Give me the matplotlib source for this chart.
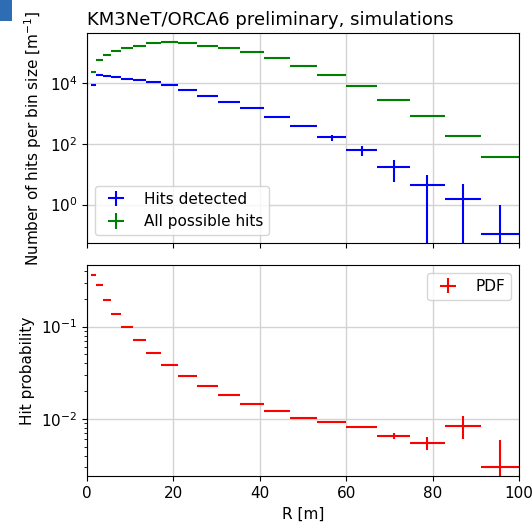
import numpy as np
import matplotlib
matplotlib.use("Agg")
import matplotlib.pyplot as plt
from matplotlib.patches import Rectangle
from matplotlib.ticker import NullLocator

plt.rcParams["font.size"] = 11

# bin edges in R [m]
edges = [1.0, 2.1, 3.61, 5.52, 7.84, 10.56, 13.69, 17.22, 21.16, 25.5, 30.25,
         35.4, 41.0, 46.9, 53.3, 60.0, 67.2, 74.8, 82.8, 91.2, 100.0]

hits_detected = [8800, 17700, 17000, 15700, 13500, 12200, 10500, 8400, 5900, 3750,
                 2440, 1510, 785, 389, 164, 63, 17.6, 4.3, 1.48, 0.105]
hits_detected_err = [300, 400, 380, 340, 300, 260, 230, 200, 160, 120,
                     90, 60, 40, 40, 36, 22, 12, 5.2, 3.4, 0.83]

hits_all = [23000, 56800, 82800, 112000, 140600, 171000, 205000, 221000, 205000, 171000,
            141000, 104000, 64100, 37700, 18300, 7740, 2770, 803, 183, 36.4]
hits_all_err = [200, 400, 500, 600, 700, 700, 800, 800, 700, 650,
                550, 450, 350, 250, 170, 100, 55, 25, 10, 3.6]

pdf = [0.359, 0.284, 0.196, 0.138, 0.0986, 0.0707, 0.0516, 0.0383, 0.0291, 0.0227,
       0.0181, 0.0145, 0.0121, 0.01025, 0.00918, 0.0082, 0.0066, 0.00546, 0.0084, 0.00305]
pdf_err = [0.002, 0.0015, 0.001, 0.0007, 0.0005, 0.0004, 0.0003, 0.0002, 0.00015, 0.00012,
           0.0001, 0.0001, 0.0001, 0.0001, 0.0001, 0.0002, 0.0005, 0.00085, 0.0023, 0.0029]

top_yticks = [1, 100, 10000]

edges = np.array(edges)
centers = 0.5 * (edges[1:] + edges[:-1])
halfw = 0.5 * (edges[1:] - edges[:-1])

fig = plt.figure(figsize=(5.32, 5.25), dpi=100)
ax1 = fig.add_axes([0.1635, 0.537, 0.812, 0.400])
ax2 = fig.add_axes([0.1635, 0.093, 0.812, 0.402], sharex=ax1)

ax1.errorbar(centers, hits_detected, xerr=halfw, yerr=hits_detected_err, fmt="none",
             ecolor="blue", elinewidth=1.5, label="Hits detected")
ax1.errorbar(centers, hits_all, xerr=halfw, yerr=hits_all_err, fmt="none",
             ecolor="green", elinewidth=1.5, label="All possible hits")
ax1.set_yscale("log")
ax1.set_yticks(top_yticks)
ax1.yaxis.set_minor_locator(NullLocator())
ax1.set_ylim(0.054, 4.4e5)
ax1.set_ylabel("Number of hits per bin size [m$^{-1}$]")
ax1.set_title("KM3NeT/ORCA6 preliminary, simulations", loc="left", fontsize=13)
ax1.grid(True, color="lightgray", linewidth=1)
ax1.set_axisbelow(True)
ax1.legend(loc="lower left")
ax1.tick_params(labelbottom=False)

ax2.errorbar(centers, pdf, xerr=halfw, yerr=pdf_err, fmt="none",
             ecolor="red", elinewidth=1.5, label="PDF")
ax2.set_yscale("log")
ax2.set_ylim(0.0024, 0.463)
ax2.set_xlim(0, 100)
ax2.set_xlabel("R [m]")
ax2.set_ylabel("Hit probability")
ax2.grid(True, color="lightgray", linewidth=1)
ax2.set_axisbelow(True)
ax2.legend(loc="upper right")

# small blue corner mark from the source page
fig.patches.append(Rectangle((0, 1 - 21 / 525), 12 / 532, 21 / 525, transform=fig.transFigure,
                             facecolor="#2e6db4", edgecolor="none"))

fig.savefig("out.png", dpi=100)
